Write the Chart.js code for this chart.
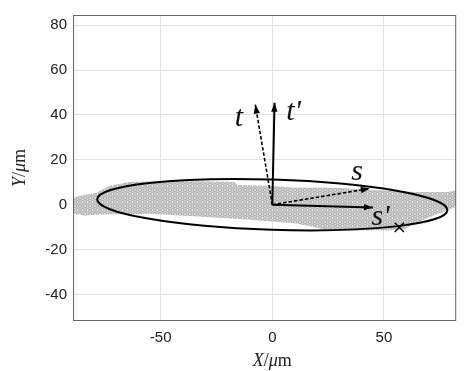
<!DOCTYPE html>
<html>
<head>
<meta charset="utf-8">
<script src="https://cdn.jsdelivr.net/npm/chart.js@4.4.1/dist/chart.umd.min.js"></script>
<style>
html, body { margin: 0; padding: 0; background: #fff; }
#box { width: 464px; height: 371px; }
</style>
</head>
<body>
<div id="box"><canvas id="grafico"></canvas></div>
<script>
// Eixos
var xTicks = [-50, 0, 50];
var yTicks = [-40, -20, 0, 20, 40, 60, 80];
var xRange = [-89.3, 82.4];
var yRange = [-51.8, 84.5];

// Faixa cinza (contorno)
var faixaX = [-89.3, -83.9, -78.6, -72.9, -64.1, -50.9, -33.3, -17.0, -15.7, -2.5, 10.7, 28.3, 45.9, 63.5, 78.9, 82.4,
	82.4, 78.9, 72.3, 63.5, 59.1, 52.5, 37.1, 23.9, 10.7, -11.3, -33.3, -55.3, -77.3, -83.9, -89.3];
var faixaY = [3.1, 4.4, 5.3, 8.4, 10.1, 10.5, 10.5, 10.1, 8.8, 8.4, 7.5, 7.5, 6.6, 5.7, 5.7, 6.6,
	-0.9, -2.2, -4.8, -8.4, -11.0, -11.4, -11.4, -11.0, -8.4, -6.6, -5.3, -4.0, -4.4, -4.8, -4.0];

// Elipse: centro, semi-eixos, inclinação em graus
var elipseCentro = [0, 0];
var elipseEixos = [78.5, 11.2];
var elipseAngulo = -1.8;

// Vetores a partir da origem
var vetNomes = ["t", "t'", "s", "s'"];
var vetX = [-7.6, 1.0, 43.7, 45.1];
var vetY = [44.6, 45.4, 7.2, -1.2];
var rotuloX = [-15.0, 9.5, 38.0, 48.5];
var rotuloY = [35.0, 37.6, 11.2, -9.0];

// Marca "x"
var marcaX = [56.9];
var marcaY = [-10.1];

// Textura de bolinhas da faixa
function criarTextura() {
	var c = document.createElement("canvas");
	c.width = 5;
	c.height = 8;
	var g = c.getContext("2d");
	g.fillStyle = "#cfcfcf";
	g.fillRect(0, 0, 5, 8);
	g.strokeStyle = "#9c9c9c";
	g.fillStyle = "#ededed";
	g.lineWidth = 0.8;
	[[2.5, 2], [0, 6], [5, 6]].forEach(function (p) {
		g.beginPath();
		g.arc(p[0], p[1], 1.5, 0, Math.PI * 2);
		g.fill();
		g.stroke();
	});
	return g.createPattern(c, "repeat");
}

var pontosFaixa = faixaX.map(function (x, i) { return { x: x, y: faixaY[i] }; });

var datasets = [];
// vetores (tracejados: t e s)
for (var i = 0; i < vetNomes.length; i++) {
	var tracejado = vetNomes[i].indexOf("'") < 0;
	datasets.push({
		label: vetNomes[i],
		data: [{ x: 0, y: 0 }, { x: vetX[i], y: vetY[i] }],
		showLine: true,
		borderColor: "#000",
		borderWidth: tracejado ? 1.6 : 2,
		borderDash: tracejado ? [3.5, 2] : [],
		pointRadius: 0,
		seta: true,
	});
}
datasets.push({
	label: "marca",
	data: marcaX.map(function (x, i) { return { x: x, y: marcaY[i] }; }),
	pointStyle: "crossRot",
	pointRadius: 6.5,
	borderColor: "#000",
	borderWidth: 1.3,
});
datasets.push({
	label: "faixa",
	data: pontosFaixa,
	showLine: true,
	fill: "shape",
	backgroundColor: criarTextura(),
	borderWidth: 0,
	pointRadius: 0,
	tension: 0,
});
var indiceFaixa = datasets.length - 1;

function px(chart, x, y) {
	return [chart.scales.x.getPixelForValue(x), chart.scales.y.getPixelForValue(y)];
}

var pluginDesenho = {
	id: "desenho",
	afterDatasetDraw: function (chart, args) {
		if (args.index !== indiceFaixa) return;
		var ctx = chart.ctx;
		var c = px(chart, elipseCentro[0], elipseCentro[1]);
		var rx = Math.abs(chart.scales.x.getPixelForValue(elipseCentro[0] + elipseEixos[0]) - c[0]);
		var ry = Math.abs(chart.scales.y.getPixelForValue(elipseCentro[1] + elipseEixos[1]) - c[1]);
		ctx.save();
		ctx.beginPath();
		ctx.ellipse(c[0], c[1], rx, ry, -elipseAngulo * Math.PI / 180, 0, Math.PI * 2);
		ctx.strokeStyle = "#000";
		ctx.lineWidth = 2;
		ctx.stroke();
		ctx.restore();
	},
	afterDatasetsDraw: function (chart) {
		var ctx = chart.ctx;
		var a = chart.chartArea;
		ctx.save();
		// setas
		chart.data.datasets.forEach(function (ds) {
			if (!ds.seta) return;
			var p0 = px(chart, ds.data[0].x, ds.data[0].y);
			var p1 = px(chart, ds.data[1].x, ds.data[1].y);
			var ang = Math.atan2(p1[1] - p0[1], p1[0] - p0[0]);
			var L = 9, W = 3.2;
			ctx.beginPath();
			ctx.moveTo(p1[0], p1[1]);
			ctx.lineTo(p1[0] - L * Math.cos(ang) + W * Math.sin(ang), p1[1] - L * Math.sin(ang) - W * Math.cos(ang));
			ctx.lineTo(p1[0] - L * Math.cos(ang) - W * Math.sin(ang), p1[1] - L * Math.sin(ang) + W * Math.cos(ang));
			ctx.closePath();
			ctx.fillStyle = "#000";
			ctx.fill();
		});
		// rótulos dos vetores
		ctx.font = "italic 30px 'Liberation Serif', serif";
		ctx.fillStyle = "#111";
		ctx.textAlign = "center";
		ctx.textBaseline = "alphabetic";
		for (var i = 0; i < vetNomes.length; i++) {
			var p = px(chart, rotuloX[i], rotuloY[i]);
			ctx.fillText(vetNomes[i], p[0], p[1]);
		}
		// moldura
		ctx.strokeStyle = "#666";
		ctx.lineWidth = 1;
		ctx.strokeRect(a.left + 0.5, a.top + 0.5, a.right - a.left - 1, a.bottom - a.top - 1);
		// títulos dos eixos (X/μm, Y/μm)
		function titulo(letra, cx, cy) {
			var partes = [
				["italic 18px 'Liberation Serif', serif", letra],
				["18px 'Liberation Serif', serif", "/"],
				["italic 18px 'Liberation Serif', serif", "\u03bc"],
				["18px 'Liberation Serif', serif", "m"],
			];
			var total = 0;
			partes.forEach(function (pt) { ctx.font = pt[0]; total += ctx.measureText(pt[1]).width; });
			var x = cx - total / 2;
			ctx.textAlign = "left";
			partes.forEach(function (pt) {
				ctx.font = pt[0];
				ctx.fillText(pt[1], x, cy);
				x += ctx.measureText(pt[1]).width;
			});
		}
		ctx.fillStyle = "#222";
		titulo("X", chart.scales.x.getPixelForValue(0), 366);
		ctx.translate(25, (a.top + a.bottom) / 2);
		ctx.rotate(-Math.PI / 2);
		titulo("Y", 0, 0);
		ctx.restore();
	},
};

new Chart(document.getElementById("grafico"), {
	type: "scatter",
	data: { datasets: datasets },
	options: {
		responsive: true,
		maintainAspectRatio: false,
		animation: false,
		layout: { padding: { top: 11, right: 1, left: 0, bottom: 0 } },
		plugins: { legend: { display: false }, tooltip: { enabled: false } },
		scales: {
			x: {
				type: "linear",
				min: xRange[0],
				max: xRange[1],
				afterBuildTicks: function (s) { s.ticks = xTicks.map(function (v) { return { value: v }; }); },
				afterFit: function (s) { s.height = 50; },
				grid: { color: "#e2e2e2", drawTicks: false },
				border: { display: false },
				ticks: { color: "#222", padding: 8, font: { family: "'Liberation Sans', Arial, sans-serif", size: 15 } },
			},
			y: {
				type: "linear",
				min: yRange[0],
				max: yRange[1],
				afterBuildTicks: function (s) { s.ticks = yTicks.map(function (v) { return { value: v }; }); },
				afterFit: function (s) { s.width = 73; },
				grid: { color: "#e2e2e2", drawTicks: false },
				border: { display: false },
				ticks: { color: "#222", padding: 6, font: { family: "'Liberation Sans', Arial, sans-serif", size: 15 } },
			},
		},
	},
	plugins: [pluginDesenho],
});
</script>
</body>
</html>
